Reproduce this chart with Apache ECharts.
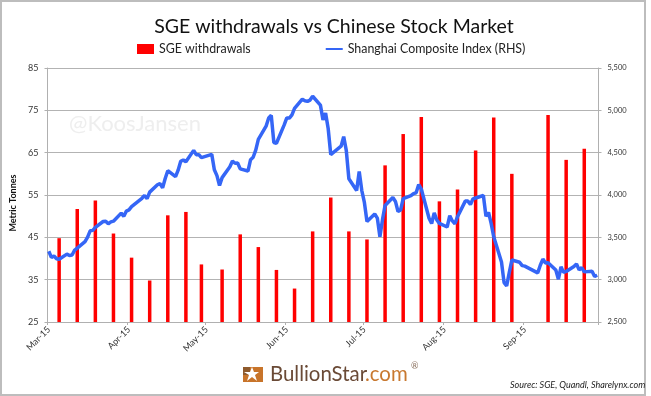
<!DOCTYPE html>
<html><head><meta charset="utf-8">
<style>html,body{margin:0;padding:0;background:#fff}#c{width:651px;height:396px}</style>
<script src="https://cdn.jsdelivr.net/npm/echarts@6/dist/echarts.min.js"></script>
</head><body><div id="c"></div>
<script>
var titleText = 'SGE withdrawals vs Chinese Stock Market';
var barName = 'SGE withdrawals';
var lineName = 'Shanghai Composite Index (RHS)';
var leftTicks = [25,35,45,55,65,75,85];
var rightTicks = [2500,3000,3500,4000,4500,5000,5500];
var monthTickDates = ['03-02','04-02','05-02','06-02','07-02','08-02','09-02'];
var monthTickLabels = ['Mar-15','Apr-15','May-15','Jun-15','Jul-15','Aug-15','Sep-15'];

var barDates = ['03-06','03-13','03-20','03-27','04-03','04-10','04-17','04-24','04-30','05-08','05-15','05-22','05-29','06-05','06-12','06-19','06-26','07-03','07-10','07-17','07-24','07-31','08-07','08-14','08-21','08-28','09-11','09-18','09-25'];
var barValues = [44.8,51.7,53.7,45.9,40.2,34.8,50.2,51,38.6,37.4,45.7,42.7,37.3,32.9,46.4,54.4,46.4,44.5,62,69.4,73.4,53.5,56.3,65.5,73.3,60,73.9,63.3,65.9];

var lineDates = ['03-02','03-03','03-04','03-05','03-06','03-09','03-10','03-11','03-12','03-13','03-16','03-17','03-18','03-19','03-20','03-23','03-24','03-25','03-26','03-27','03-30','03-31','04-01','04-02','04-03','04-07','04-08','04-09','04-10','04-13','04-14','04-15','04-16','04-17','04-20','04-21','04-22','04-23','04-24','04-27','04-28','04-29','04-30','05-04','05-05','05-06','05-07','05-08','05-11','05-12','05-13','05-14','05-15','05-18','05-19','05-20','05-21','05-22','05-25','05-26','05-27','05-28','05-29','06-01','06-02','06-03','06-04','06-05','06-08','06-09','06-10','06-11','06-12','06-15','06-16','06-17','06-18','06-19','06-23','06-24','06-25','06-26','06-29','06-30','07-01','07-02','07-03','07-06','07-07','07-08','07-09','07-10','07-13','07-14','07-15','07-16','07-17','07-20','07-21','07-22','07-23','07-24','07-27','07-28','07-29','07-30','07-31','08-03','08-04','08-05','08-06','08-07','08-10','08-11','08-12','08-13','08-14','08-17','08-18','08-19','08-20','08-21','08-24','08-25','08-26','08-27','08-28','08-31','09-01','09-02','09-07','09-08','09-09','09-10','09-11','09-14','09-15','09-16','09-17','09-18','09-21','09-22','09-23','09-24','09-25','09-28','09-29','09-30'];
var lineValues = [3336,3263,3280,3248,3241,3302,3286,3291,3349,3372,3449,3502,3577,3582,3617,3687,3691,3660,3682,3691,3786,3748,3810,3825,3863,3961,3994,3957,4034,4121,4135,4084,4194,4287,4217,4293,4398,4414,4393,4527,4476,4476,4441,4480,4298,4229,4112,4205,4333,4401,4375,4378,4308,4283,4417,4446,4529,4657,4813,4910,4941,4620,4611,4828,4910,4909,4947,5023,5131,5113,5106,5121,5166,5062,4887,4967,4785,4478,4576,4690,4527,4192,4053,4277,4053,3912,3686,3775,3727,3507,3709,3877,3970,3924,3805,3823,3957,3992,4017,4026,4124,4070,3725,3663,3789,3705,3664,3622,3756,3694,3661,3744,3928,3928,3887,3955,3965,3994,3748,3794,3664,3507,3209,2965,2927,3084,3232,3206,3166,3160,3080,3170,3243,3197,3200,3114,3005,3152,3086,3097,3156,3186,3116,3142,3092,3100,3038,3052];

// one category per calendar day, as on an Excel date axis
var days = [];
for (var d = new Date(Date.UTC(2015,2,2)); d <= new Date(Date.UTC(2015,8,30)); d = new Date(d.getTime()+864e5)) {
  days.push(d.toISOString().slice(5,10));
}
function onDays(dates, values){
  var m = {}; dates.forEach(function(k,i){ m[k]=values[i]; });
  return days.map(function(k){ return k in m ? m[k] : null; });
}
function isMonthTick(i){ return monthTickDates.indexOf(days[i]) >= 0; }

var chart = echarts.init(document.getElementById('c'), null, {renderer:'canvas'});
var FONT = 'Lato, "Open Sans", sans-serif';
chart.setOption({
  animation:false,
  backgroundColor:'#fff',
  title:{text:titleText,left:329,top:12,textAlign:'center',textStyle:{fontFamily:FONT,fontSize:19.5,fontWeight:'normal',color:'#111'}},
  legend:{left:137,top:43,padding:0,itemWidth:17,itemHeight:10,itemGap:74,selectedMode:false,
    textStyle:{fontFamily:FONT,fontSize:12.4,color:'#222'},
    data:[{name:barName,icon:'rect'},{name:lineName,itemStyle:{opacity:0}}]},
  grid:{left:47.5,right:52.5,top:68,bottom:74,containLabel:false},
  xAxis:{type:'category',data:days,boundaryGap:true,
    axisLine:{lineStyle:{color:'#b0b0b0',width:1}},
    axisTick:{show:true,interval:function(i){return isMonthTick(i);},length:3,lineStyle:{color:'#b0b0b0'}},
    axisLabel:{interval:function(i){return isMonthTick(i);},rotate:45,fontFamily:FONT,fontSize:9,color:'#333',margin:6,
      formatter:function(v){return monthTickLabels[monthTickDates.indexOf(v)];}},
    splitLine:{show:false}},
  yAxis:[
    {type:'value',min:25,max:85,position:'left',
     axisLine:{show:true,lineStyle:{color:'#b0b0b0'}},
     axisTick:{show:true,length:3,lineStyle:{color:'#b0b0b0'},customValues:leftTicks},
     axisLabel:{fontFamily:FONT,fontSize:9,color:'#333',margin:9,customValues:leftTicks},
     splitLine:{show:true,lineStyle:{color:'#b3b3b3',width:1}},
     name:'Metric Tonnes',nameLocation:'middle',nameGap:27,nameRotate:90,
     nameTextStyle:{fontFamily:FONT,fontSize:9,fontWeight:'bold',color:'#111',padding:[0,16,0,0]}},
    {type:'value',min:2500,max:5500,interval:500,position:'right',
     axisLine:{show:true,lineStyle:{color:'#b0b0b0'}},
     axisTick:{show:true,length:3,lineStyle:{color:'#b0b0b0'}},
     axisLabel:{fontFamily:FONT,fontSize:7.5,color:'#333',margin:9,
       formatter:function(v){return v.toLocaleString('en-US');},customValues:rightTicks},
     splitLine:{show:false}}
  ],
  series:[
    {name:barName,type:'bar',yAxisIndex:0,barWidth:3.5,barGap:'-100%',itemStyle:{color:'#ff0000'},data:onDays(barDates,barValues)},
    {name:lineName,type:'line',yAxisIndex:1,showSymbol:false,connectNulls:true,symbol:'none',z:5,
     lineStyle:{color:'#3566f6',width:3.5},itemStyle:{color:'#3566f6'},data:onDays(lineDates,lineValues)}
  ],
  graphic:[
    {type:'rect',silent:true,shape:{x:1,y:1,width:644,height:394},style:{fill:'none',stroke:'#bdbdbd',lineWidth:2},z:-1},
    {type:'text',silent:true,left:69,top:113,z:-1,style:{text:'@KoosJansen',fontFamily:FONT,fontSize:22,fill:'#eeeeee'}},
    {type:'rect',silent:true,shape:{x:243,y:367,width:20,height:15},style:{fill:'#c8742a'}},
    {type:'rect',silent:true,shape:{x:243,y:367,width:7,height:8},style:{fill:'#8f5a2c'}},
    {type:'polygon',silent:true,shape:{points:[[244,372],[250,372],[252,367],[254,372],[259,372],[255,375],[257,381],[252,377],[247,381],[249,375]]},style:{fill:'#fff'}},
    {type:'text',silent:true,left:270,top:364,style:{text:'BullionStar',fontFamily:FONT,fontSize:20.4,fill:'#6a4a36'}},
    {type:'text',silent:true,left:365,top:364,style:{text:'.com',fontFamily:FONT,fontSize:20.4,fill:'#c8782f'}},
    {type:'text',silent:true,left:411,top:362,style:{text:'®',fontFamily:FONT,fontSize:9,fill:'#8a6f5c'}},
    {type:'text',silent:true,left:510,top:381,style:{text:'Sourec: SGE, Quandl, Sharelynx.com',fontFamily:FONT,fontSize:9,fontStyle:'italic',fill:'#222'}}
  ]
});
</script></body></html>
